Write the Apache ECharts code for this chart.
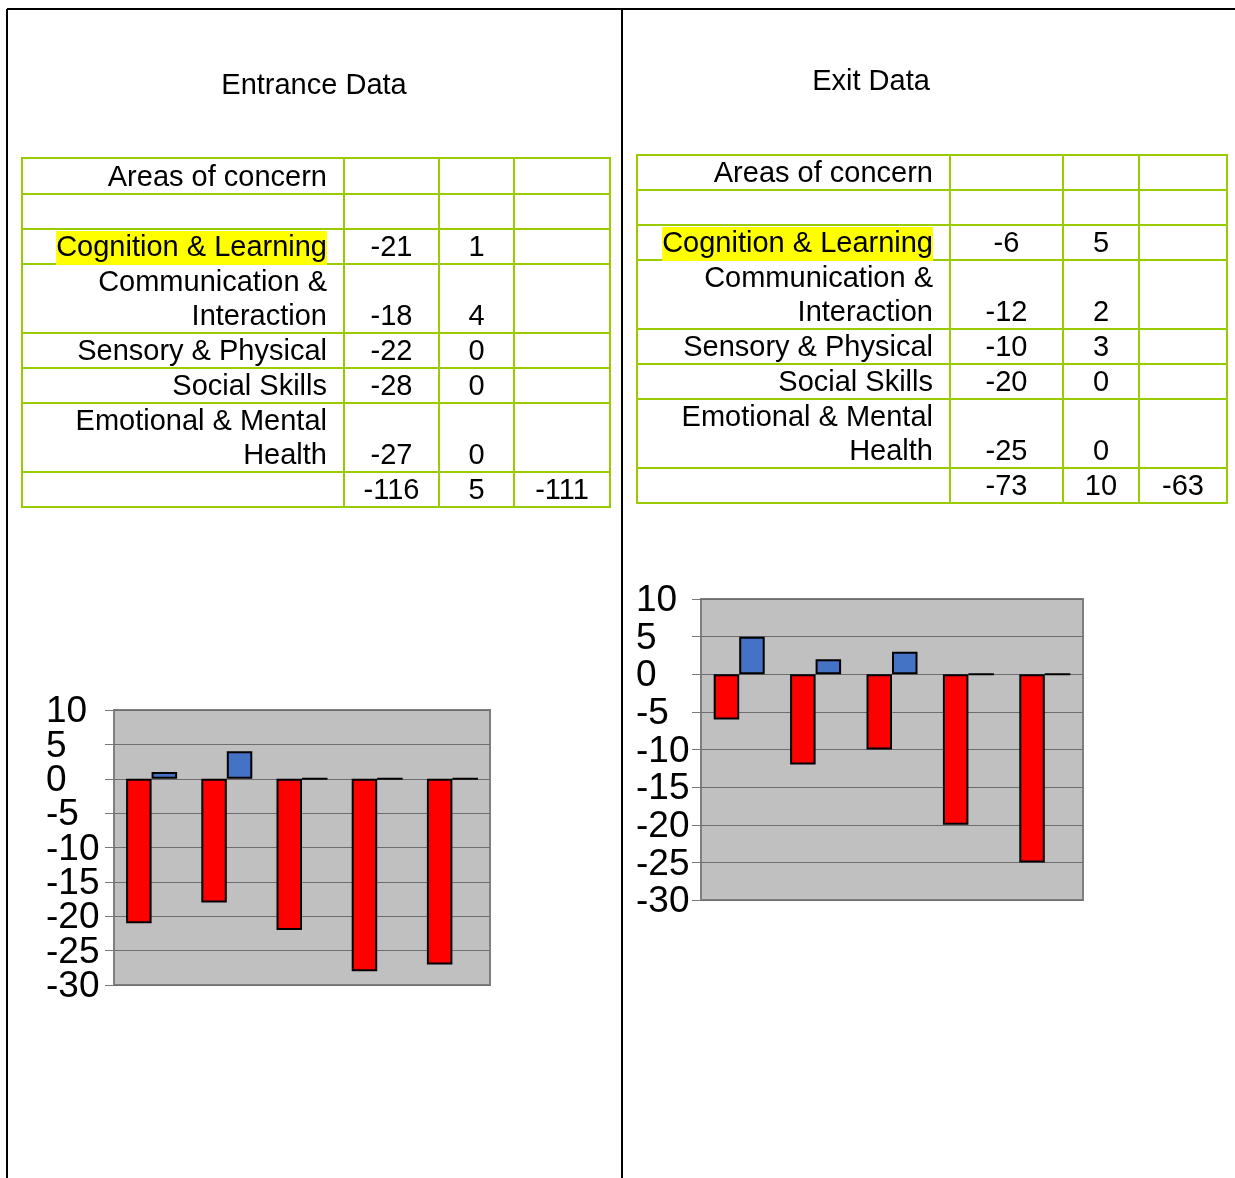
<!DOCTYPE html>
<html>
<head>
<meta charset="utf-8">
<script src="https://cdn.jsdelivr.net/npm/echarts@6/dist/echarts.min.js"></script>
<style>
  html, body { margin: 0; padding: 0; background: #fff; }
  #main { width: 1235px; height: 1178px; }
</style>
</head>
<body>
<div id="main"></div>
<script>
// Areas of concern (row labels) and scores per area
const areas = [
  'Cognition & Learning',
  'Communication &\nInteraction',
  'Sensory & Physical',
  'Social Skills',
  'Emotional & Mental\nHealth'
];
const entranceNeg = [-21, -18, -22, -28, -27];
const entrancePos = [1, 4, 0, 0, 0];
const exitNeg = [-6, -12, -10, -20, -25];
const exitPos = [5, 2, 3, 0, 0];
const titles = ['Entrance Data', 'Exit Data'];
const headerLabel = 'Areas of concern';
const yTicks = [10, 5, 0, -5, -10, -15, -20, -25, -30];
const yMin = -30, yMax = 10, yStep = 5;

const FONT = '"Liberation Sans", Arial, sans-serif';
const GREEN = '#99cc00';
const RED = '#ff0000';
const BLUE = '#4472c4';

function sum(a) { return a.reduce((s, v) => s + v, 0); }

// Builds one bordered data table as graphic elements
function buildTable(colX, top, headerH, neg, pos) {
  const els = [];
  const rows = [];
  rows.push({ h: headerH, cells: [headerLabel, '', '', ''] });
  rows.push({ h: 35, cells: ['', '', '', ''] });
  areas.forEach((a, i) => rows.push({
    h: a.includes('\n') ? 69 : 35,
    cells: [a, String(neg[i]), String(pos[i]), ''],
    hl: i === 0
  }));
  const tn = sum(neg), tp = sum(pos);
  rows.push({ h: 35, cells: ['', String(tn), String(tp), String(tn + tp)] });

  let y = top;
  rows.forEach(r => {
    for (let c = 0; c < 4; c++) {
      els.push({
        type: 'rect', z: 1, silent: true,
        shape: { x: colX[c], y: y, width: colX[c + 1] - colX[c], height: r.h },
        style: { fill: 'none', stroke: GREEN, lineWidth: 2 }
      });
      const t = r.cells[c];
      if (!t) continue;
      const st = { text: t, font: '29px ' + FONT, fill: '#000', verticalAlign: 'bottom', lineHeight: 34 };
      let x;
      if (c === 0) {
        x = colX[1] - 17;
        st.align = 'right';
        if (r.hl) st.backgroundColor = '#ffff00';
      } else {
        x = (colX[c] + colX[c + 1]) / 2;
        st.align = 'center';
      }
      els.push({ type: 'text', z: 3, silent: true, x: x, y: y + r.h + 1, style: st });
    }
    y += r.h;
  });
  return els;
}

const frame = [
  { type: 'line', shape: { x1: 7, y1: 9, x2: 1235, y2: 9 } },
  { type: 'line', shape: { x1: 7, y1: 9, x2: 7, y2: 1178 } },
  { type: 'line', shape: { x1: 622, y1: 9, x2: 622, y2: 1178 } }
].map(l => Object.assign(l, { silent: true, z: 5, style: { stroke: '#000', lineWidth: 2 } }));

const titleEls = [
  { type: 'text', x: 314, y: 86, style: { text: titles[0], font: '29px ' + FONT, fill: '#000', align: 'center', verticalAlign: 'middle' } },
  { type: 'text', x: 871, y: 82, style: { text: titles[1], font: '29px ' + FONT, fill: '#000', align: 'center', verticalAlign: 'middle' } }
];

function yAxisCfg(gi) {
  return {
    gridIndex: gi, type: 'value', min: yMin, max: yMax, interval: yStep,
    axisLine: { show: false },
    axisTick: { show: true, length: 9, lineStyle: { color: '#7a7a7a', width: 1 } },
    splitLine: { show: true, lineStyle: { color: '#6e6e6e', width: 1 } },
    axisLabel: { show: false }
  };
}
function xAxisCfg(gi) {
  return { gridIndex: gi, type: 'category', data: areas, show: false };
}
function bar(gi, data, color) {
  return {
    type: 'bar', xAxisIndex: gi, yAxisIndex: gi, data: data,
    barWidth: 25.5, barGap: '0%',
    itemStyle: { color: color, borderColor: '#000', borderWidth: 2 },
    silent: true
  };
}

const chart = echarts.init(document.getElementById('main'), null, { renderer: 'canvas' });
chart.setOption({
  animation: false,
  backgroundColor: '#fff',
  grid: [
    { left: 114, top: 710, width: 376, height: 275, show: true, backgroundColor: '#c0c0c0', borderColor: '#7f7f7f', borderWidth: 2 },
    { left: 701, top: 599, width: 382, height: 301, show: true, backgroundColor: '#c0c0c0', borderColor: '#7f7f7f', borderWidth: 2 }
  ],
  xAxis: [xAxisCfg(0), xAxisCfg(1)],
  yAxis: [yAxisCfg(0), yAxisCfg(1)],
  series: [
    bar(0, entranceNeg, RED), bar(0, entrancePos, BLUE),
    bar(1, exitNeg, RED), bar(1, exitPos, BLUE)
  ]
});

// Tick labels are packed tighter than their own height, so they are placed
// as text at the positions given by each value axis (no overlap hiding).
function tickLabels(gi, x) {
  return yTicks.map(v => ({
    type: 'text', silent: true, z: 4,
    x: x,
    y: chart.convertToPixel({ yAxisIndex: gi }, v) + 2,
    style: { text: String(v), font: '37px ' + FONT, fill: '#000', align: 'left', verticalAlign: 'middle' }
  }));
}

chart.setOption({
  graphic: [].concat(
    frame,
    titleEls,
    buildTable([22, 344, 439, 514, 610], 158, 36, entranceNeg, entrancePos),
    buildTable([637, 950, 1063, 1139, 1227], 155, 35, exitNeg, exitPos),
    tickLabels(0, 46),
    tickLabels(1, 636)
  )
});
</script>
</body>
</html>
